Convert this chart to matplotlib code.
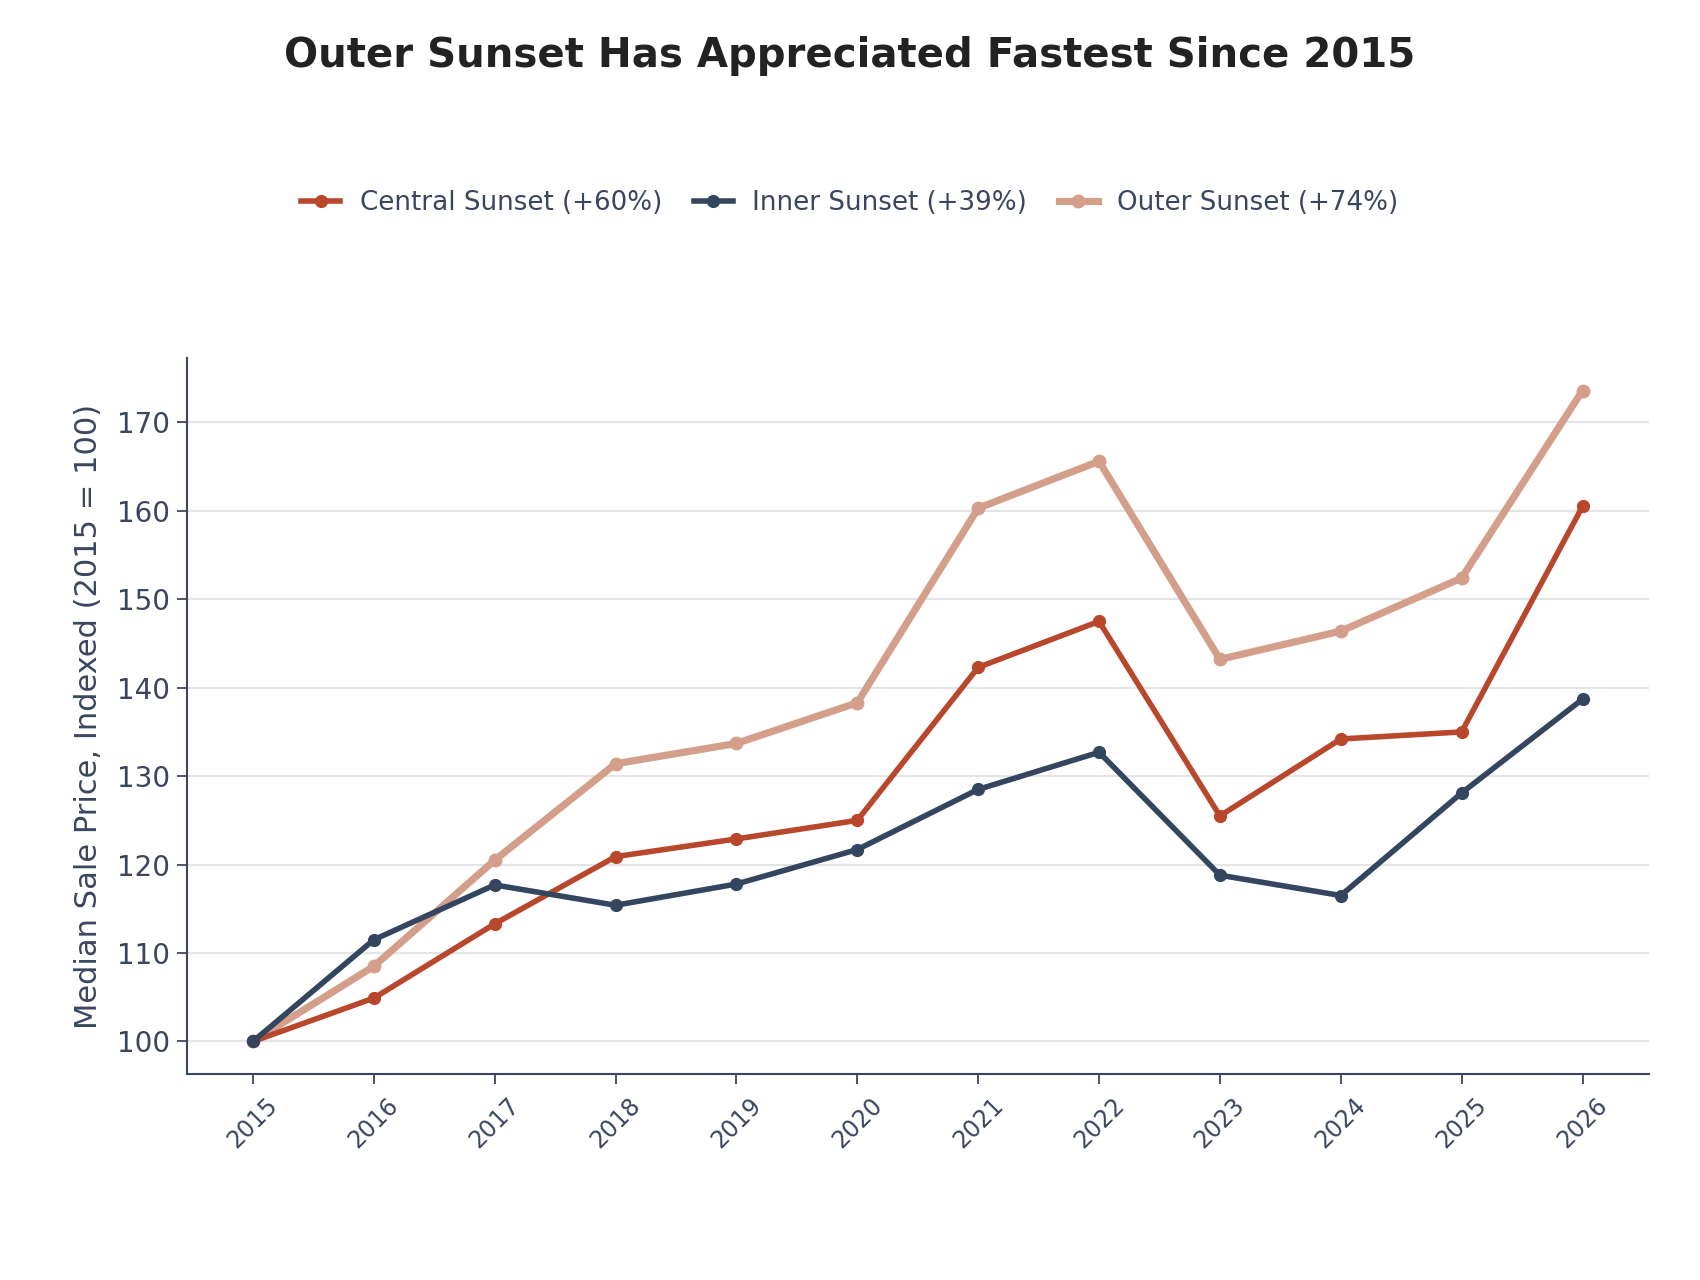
import matplotlib
matplotlib.use("Agg")
import matplotlib.pyplot as plt

years = [2015, 2016, 2017, 2018, 2019, 2020, 2021, 2022, 2023, 2024, 2025, 2026]
central = [100, 104.9, 113.3, 120.9, 122.9, 125.0, 142.3, 147.5, 125.5, 134.2, 135.0, 160.5]
inner = [100, 111.5, 117.7, 115.4, 117.8, 121.7, 128.5, 132.7, 118.8, 116.5, 128.1, 138.7]
outer = [100, 108.5, 120.5, 131.4, 133.7, 138.3, 160.3, 165.6, 143.2, 146.4, 152.4, 173.6]
labels = ["Central Sunset (+60%)", "Inner Sunset (+39%)", "Outer Sunset (+74%)"]
title = "Outer Sunset Has Appreciated Fastest Since 2015"
ylabel = "Median Sale Price, Indexed (2015 = 100)"

c_central = "#B8472B"
c_inner = "#34465F"
c_outer = "#D49F8A"
txt = "#3A4560"

plt.rcParams['font.family'] = ['DejaVu Sans']
fig = plt.figure(figsize=(17, 12.8), dpi=100)
ax = fig.add_axes([186.5 / 1700, 1 - 1074 / 1280, (1649 - 186.5) / 1700, (1074 - 358) / 1280])

ax.plot(years, central, color=c_central, lw=4, marker='o', ms=8.5, label=labels[0], zorder=3)
ax.plot(years, inner, color=c_inner, lw=4, marker='o', ms=8.5, label=labels[1], zorder=3)
ax.plot(years, outer, color=c_outer, lw=5.2, marker='o', ms=9, label=labels[2], zorder=2)

ax.set_xticks(years)
ax.set_xticklabels([str(y) for y in years], rotation=45, fontsize=17, color=txt, ha='center')
ax.set_yticks([100, 110, 120, 130, 140, 150, 160, 170])
ax.tick_params(axis='y', labelsize=20, colors=txt, length=7, width=1.3, pad=5)
ax.tick_params(axis='x', colors=txt, length=7, width=1.3, pad=7)
for lbl in ax.get_yticklabels():
    lbl.set_color(txt)
ax.grid(axis='y', color='#E3E4E8', lw=1.5, zorder=0)
ax.set_axisbelow(True)
for s in ['top', 'right']:
    ax.spines[s].set_visible(False)
for s in ['left', 'bottom']:
    ax.spines[s].set_color(txt)
    ax.spines[s].set_linewidth(1.5)

ax.set_ylabel(ylabel, fontsize=22, color=txt, labelpad=10)
fig.text(0.5, 1 - 56 / 1280, title, ha='center', va='center', fontsize=29, fontweight='bold', color='#222222')
fig.legend(loc='center', bbox_to_anchor=(0.5, 1 - 203 / 1280), ncol=3, frameon=False,
           fontsize=18.8, labelcolor=txt, handlelength=1.5, columnspacing=1.2, handletextpad=0.75)

fig.savefig("out.png", dpi=100, facecolor='white')
